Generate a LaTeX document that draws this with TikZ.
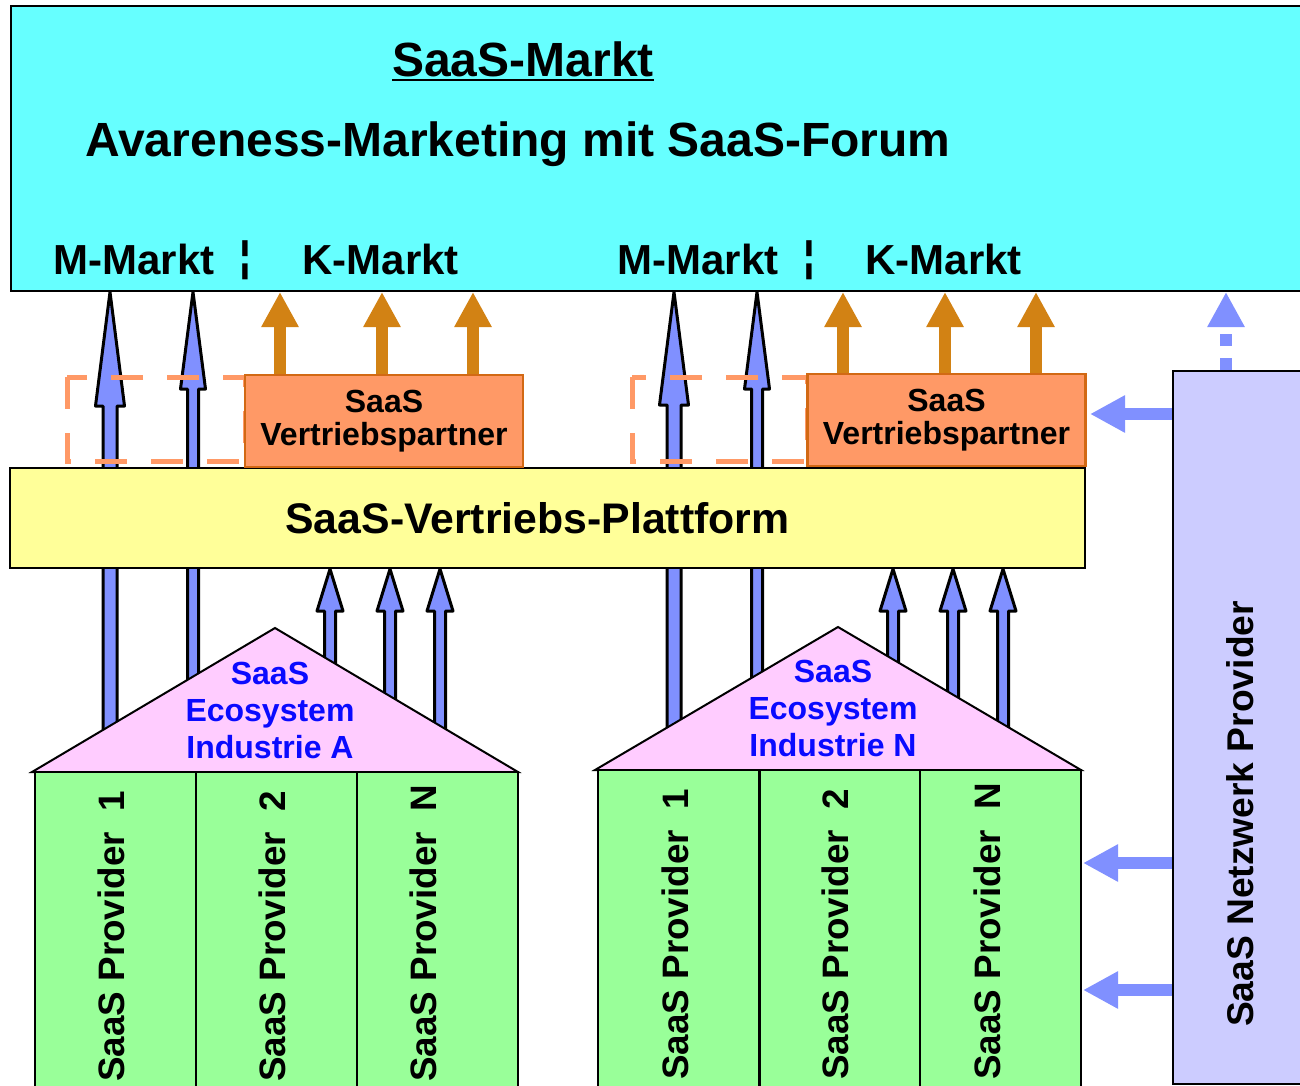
\documentclass[tikz,border=0pt]{standalone}
\usepackage{fontspec}
\setmainfont{Liberation Sans}
\usetikzlibrary{calc,arrows.meta,positioning}

\definecolor{marktcyan}{HTML}{66FFFF}
\definecolor{plattgelb}{HTML}{FFFF99}
\definecolor{vpfill}{HTML}{FF9966}
\definecolor{vpborder}{RGB}{210,105,20}
\definecolor{dashorange}{HTML}{FF9966}
\definecolor{goldpfeil}{RGB}{210,130,20}
\definecolor{blaupfeil}{RGB}{128,144,255}
\definecolor{ecorosa}{HTML}{FFCCFF}
\definecolor{provgruen}{HTML}{99FF99}
\definecolor{netzlila}{HTML}{CCCCFF}
\definecolor{ecotext}{RGB}{10,10,255}

\newcommand{\unterstrich}[1]{\leavevmode\setbox0=\hbox{#1}\rlap{\rule[-2.6pt]{\wd0}{1.3pt}}\box0}
% fat arrow with black outline, from a foot coordinate up to a target
\newcommand{\fatup}[5]{\draw[fatarrow] ($(#1)+(-#3,0)$) -- ($(#1 |- #2)+(-#3,#5)$) -- ($(#1 |- #2)+(-#4,#5)$)
					-- (#1 |- #2) -- ($(#1 |- #2)+(#4,#5)$) -- ($(#1 |- #2)+(#3,#5)$) -- ($(#1)+(#3,0)$) -- cycle;}

\tikzset{
	box/.style={draw=black, line width=1pt, inner sep=0pt},
	marktlabel/.style={inner sep=0pt, font=\fontsize{21}{24}\selectfont\bfseries},
	vpbox/.style={draw=vpborder, line width=1.2pt, fill=vpfill, inner sep=0pt, minimum width=139pt, minimum height=46pt, align=center, font=\fontsize{16}{16.5}\selectfont\bfseries},
	prov/.style={box, fill=provgruen, minimum width=80.5pt, minimum height=163pt},
	provlabel/.style={inner sep=0pt, rotate=90, anchor=west, font=\fontsize{18.4}{20}\selectfont\bfseries},
	ecolabel/.style={inner sep=0pt, align=center, text=ecotext, font=\fontsize{16}{18.5}\selectfont\bfseries},
	fatarrow/.style={draw=black, line width=1.5pt, fill=blaupfeil, line join=round},
	goldarrow/.style={draw=goldpfeil, line width=6pt, -{Triangle[length=17.5pt,width=17.5pt]}},
	netzarrow/.style={draw=blaupfeil, line width=6pt, -{Triangle[length=17.5pt,width=17.5pt]}},
	dashframe/.style={draw=dashorange, line width=2.5pt, dash pattern=on 16pt off 12pt},
}

\begin{document}
\begin{tikzpicture}[x=0.5pt, y=-0.5pt]
	\clip (0,0) rectangle (1300,1086);

	% Markt
	\node[box, fill=marktcyan, anchor=north west, minimum width=650pt, minimum height=142.5pt] (markt) at (10,5) {};
	\node[inner sep=0pt, anchor=base, font=\fontsize{24}{28}\selectfont\bfseries] (titel) at (523,76) {\unterstrich{SaaS-Markt}};
	\node[inner sep=0pt, anchor=base west, font=\fontsize{24}{28}\selectfont\bfseries] (forum) at (85,156) {Avareness-Marketing mit SaaS-Forum};
	\node[marktlabel, anchor=base west] (mA) at (53,274) {M-Markt};
	\node[marktlabel, anchor=base] (sepA) at (245,270) {¦};
	\node[marktlabel, anchor=base west] (kA) at (302,274) {K-Markt};
	\node[marktlabel, anchor=base west] (mN) at (617,274) {M-Markt};
	\node[marktlabel, anchor=base] (sepN) at (809,270) {¦};
	\node[marktlabel, anchor=base west] (kN) at (865,274) {K-Markt};

	% long arrows into the M-Markt
	\coordinate (fA1) at (110,760);
	\coordinate (fA2) at (193,760);
	\coordinate (fN1) at (674,760);
	\coordinate (fN2) at (757,760);
	\fatup{fA1}{markt.south}{7}{14.5}{114}
	\fatup{fA2}{markt.south}{5.5}{12.5}{97}
	\fatup{fN1}{markt.south}{7}{14.5}{113}
	\fatup{fN2}{markt.south}{5.5}{12.5}{97}

	\draw[dashframe] (67,377) rectangle (245,461);
	\draw[dashframe] (632,377) rectangle (807,461);

	% Plattform and Vertriebspartner
	\node[box, fill=plattgelb, minimum width=537.5pt, minimum height=50pt, font=\fontsize{21.4}{24}\selectfont\bfseries] (plattform) at (547.5,518) {SaaS-Vertriebs-Plattform\kern10pt};
	\node[vpbox] (vpA) at (384,421) {SaaS\\Vertriebspartner};
	\node[vpbox] (vpN) at (946.5,420) {SaaS\\Vertriebspartner};

	\foreach \x in {280,382,473} {
		\draw[goldarrow] (vpA.north -| \x,0) -- (markt.south -| \x,0);
	}
	\foreach \x in {843,945,1036} {
		\draw[goldarrow] (vpN.north -| \x,0) -- (markt.south -| \x,0);
	}

	% short arrows into the Plattform
	\foreach \x in {330,390,440,893,953,1003} {
		\coordinate (f\x) at (\x,760);
		\fatup{f\x}{plattform.south}{5.5}{13}{42}
	}

	% Ecosystems
	\draw[fill=ecorosa, line width=1pt] (275,628) -- (518,772) -- (32,772) -- cycle;
	\node[ecolabel] (ecoA) at (270,710) {SaaS\\Ecosystem\\Industrie A};
	\draw[fill=ecorosa, line width=1pt] (838,627) -- (1081,770) -- (595,770) -- cycle;
	\node[ecolabel] (ecoN) at (833,708) {SaaS\\Ecosystem\\Industrie N};

	% Provider
	\node[prov] (pA1) at (115,935) {};
	\node[prov] (pA2) at (276,935) {};
	\node[prov] (pA3) at (437.5,935) {};
	\node[prov] (pN1) at (678.5,933) {};
	\node[prov] (pN2) at (840,933) {};
	\node[prov] (pN3) at (1000.5,933) {};
	\node[provlabel] (tA1) at (111,1082) {SaaS Provider~~1};
	\node[provlabel] (tA2) at (272,1082) {SaaS Provider~~2};
	\node[provlabel] (tA3) at (423,1082) {SaaS Provider~~N};
	\node[provlabel] (tN1) at (675,1080) {SaaS Provider~~1};
	\node[provlabel] (tN2) at (835,1080) {SaaS Provider~~2};
	\node[provlabel] (tN3) at (987,1080) {SaaS Provider~~N};

	% Netzwerk Provider
	\node[box, fill=netzlila, anchor=north west, minimum width=70pt, minimum height=356.5pt] (netz) at (1172,370) {};
	\node[inner sep=0pt, rotate=90, font=\fontsize{18.6}{20}\selectfont\bfseries] (netzlabel) at (1240,814) {SaaS Netzwerk Provider};

	\coordinate (zvp) at (1090,414);
	\coordinate (zp1) at (1083,863);
	\coordinate (zp2) at (1083,990);
	\coordinate (zm) at (1226,0);
	\draw[netzarrow] (netz.west |- zvp) -- (zvp);
	\draw[netzarrow] (netz.west |- zp1) -- (zp1);
	\draw[netzarrow] (netz.west |- zp2) -- (zp2);
	\draw[netzarrow, dash pattern=on 6pt off 6pt] (netz.north -| zm) -- (markt.south -| zm);

\end{tikzpicture}
\end{document}
